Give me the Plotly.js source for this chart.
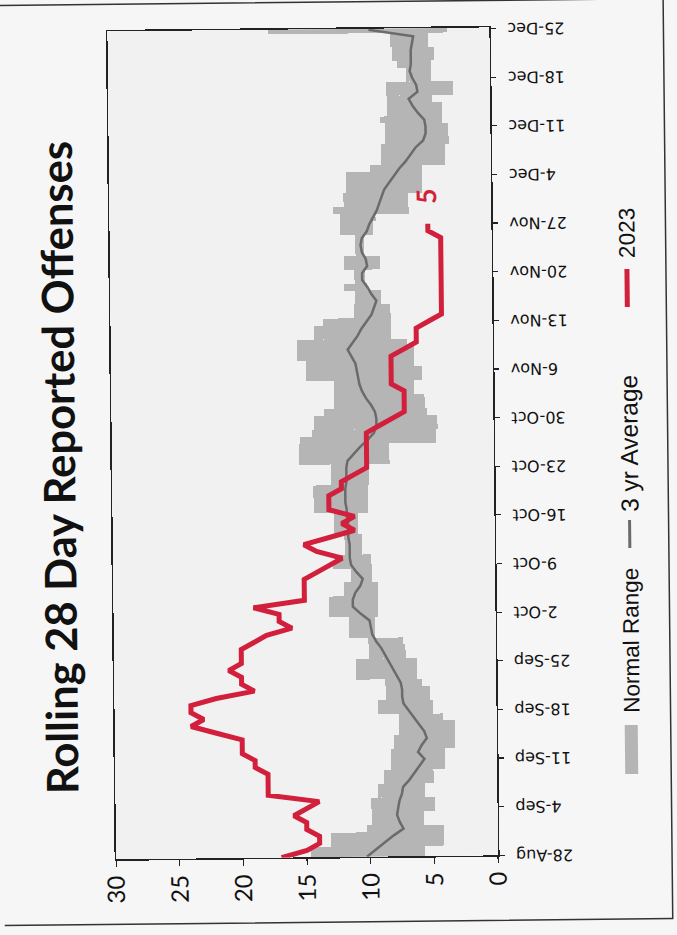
<!DOCTYPE html>
<html><head><meta charset="utf-8">
<script src="https://cdn.plot.ly/plotly-3.0.1.min.js"></script>
<style>
html,body{margin:0;padding:0;background:#f6f6f6;width:677px;height:935px;overflow:hidden}
#chart{position:absolute;left:-129px;top:129px;width:935px;height:677px;transform-origin:50% 50%;transform:rotate(-90.6deg)}
</style></head><body><div id="chart"></div>
<script>
// first day of every daily series
const startDay = [2023, 7, 28]; // 28-Aug-2023 (month is 0-based)

// Normal range (upper / lower), daily 28-Aug .. 25-Dec
const normalUpper = [14.7,14.7,13.1,13.1,10.3,9.9,9.9,9.9,9.9,9.4,
  9.4,8.9,8.9,8.3,8.3,8.3,8.1,8.1,7.7,7.7,
  7.7,9.3,9.3,8.7,8.7,8.7,11.0,11.0,11.0,10.0,
  10.0,10.0,11.5,11.5,11.5,13.1,13.1,13.1,11.9,11.9,
  11.3,11.3,12.7,12.6,11.8,11.8,11.8,12.6,12.6,12.6,
  14.2,14.2,14.2,14.2,12.8,12.8,12.8,15.3,15.3,15.3,
  15.2,14.3,14.1,14.1,13.3,12.5,12.5,12.5,12.5,14.7,
  14.7,14.7,15.4,15.4,15.4,14.0,14.0,13.3,10.9,10.9,
  10.8,10.8,11.6,10.8,10.8,11.6,11.6,10.7,10.7,10.7,
  11.9,11.9,11.9,12.4,11.6,11.6,11.4,11.4,11.4,9.5,
  8.6,8.6,8.6,8.3,8.3,8.3,8.7,8.1,8.1,8.1,
  8.2,8.2,6.6,6.6,7.3,7.7,7.7,7.8,7.8,17.4];
const normalLower = [5.7,5.7,4.2,4.2,4.2,5.8,5.8,4.9,4.9,5.7,
  5.7,5.0,5.0,4.1,4.1,4.1,3.3,3.3,3.3,3.3,
  4.2,5.0,5.0,5.2,5.2,5.8,6.2,6.2,6.2,7.1,
  7.1,7.3,9.5,9.5,9.5,9.2,9.2,9.2,9.2,9.2,
  9.7,9.7,9.7,9.7,10.4,10.4,10.4,10.7,10.7,10.7,
  9.9,9.9,9.9,9.9,9.8,9.8,9.8,8.2,8.2,8.2,
  4.5,4.5,4.4,4.4,5.2,5.4,5.4,6.2,6.2,5.6,
  5.6,6.2,6.2,6.2,6.7,8.0,8.0,8.0,8.0,8.0,
  8.7,8.7,9.8,10.0,10.0,8.8,8.8,10.0,10.0,10.0,
  9.3,9.3,9.1,6.5,6.5,6.5,5.4,5.4,5.4,5.4,
  3.6,3.6,3.6,3.3,3.3,3.3,3.8,3.8,3.8,4.6,
  2.9,2.9,4.6,4.6,4.6,4.4,4.4,4.8,4.8,3.3];

// 3 yr average
const avg3yr = [10.3,9.6,8.9,8.2,7.4,7.7,7.9,7.8,7.7,7.5,
  7.4,6.9,6.5,6.1,5.7,6.2,5.9,5.5,5.7,6.1,
  6.5,6.9,7.3,7.4,7.4,7.5,7.8,8.1,8.4,8.7,
  9.0,9.4,9.7,9.8,9.9,10.6,11.2,11.2,11.0,10.6,
  10.4,10.9,11.3,11.4,11.4,11.4,11.5,11.5,11.5,11.6,
  11.6,11.7,11.7,11.7,11.6,11.6,11.6,11.5,11.0,10.5,
  9.9,9.4,9.2,9.2,9.3,9.6,10.0,10.3,10.5,10.6,
  10.7,10.8,11.1,11.4,11.0,10.6,10.3,9.9,9.5,9.3,
  9.1,9.5,9.8,10.2,10.2,9.8,9.9,10.2,10.3,10.2,
  9.8,9.6,9.3,9.0,8.8,8.6,8.4,8.0,7.6,7.2,
  6.7,6.3,5.9,5.3,5.1,5.1,5.2,5.7,6.1,6.4,
  5.7,5.8,6.1,6.3,6.2,6.2,6.2,6.1,6.0,9.5];

// 2023 rolling 28 day count
const y2023 = [17,15,14,14,15,15,16,15,14,18,
  18,18,18,19,19,20,20,20,22,24,
  23,24,24,22,19,20,20,21,20,20,
  20,19,18,16,17,17,19,15,15,15,
  15,14,13,12,14,15,13,11,12,11,
  13,13,13,12,12,11,10,10,10,10,
  10,10,9,8,7,7,7,7,8,8,
  8,8,8,7,6,6,6,5,4,4,
  4,4,4,4,4,4,4,4,4,4,
  5,5];

const tickDates = ['2023-08-28','2023-09-04','2023-09-11','2023-09-18','2023-09-25','2023-10-02',
  '2023-10-09','2023-10-16','2023-10-23','2023-10-30','2023-11-06','2023-11-13','2023-11-20',
  '2023-11-27','2023-12-04','2023-12-11','2023-12-18','2023-12-25'];
const tickLabels = ['28-Aug','4-Sep','11-Sep','18-Sep','25-Sep','2-Oct','9-Oct','16-Oct','23-Oct',
  '30-Oct','6-Nov','13-Nov','20-Nov','27-Nov','4-Dec','11-Dec','18-Dec','25-Dec'];
const valueTicks = [0,5,10,15,20,25,30];
const seriesNames = ['Normal Range','3 yr Average','2023'];

const colRange = '#b5b5b5', colAvg = '#6b6b6b', colRed = '#d21f3c';

function dayStr(i){ return new Date(Date.UTC(startDay[0], startDay[1], startDay[2] + i)).toISOString().slice(0,10); }
const days = normalUpper.map((_, i) => dayStr(i));
const days2023 = y2023.map((_, i) => dayStr(i));

const traces = [
  { type:'bar', name:seriesNames[0], x:days, base:normalLower,
    y:normalUpper.map((u,i)=>u-normalLower[i]), width:86400000,
    marker:{color:colRange, line:{width:0}}, showlegend:false, hoverinfo:'skip' },
  { type:'scatter', mode:'lines', name:seriesNames[1], x:days, y:avg3yr,
    line:{color:colAvg, width:2.5}, showlegend:false },
  { type:'scatter', mode:'lines', name:seriesNames[2], x:days2023, y:y2023,
    line:{color:colRed, width:5}, showlegend:false }
];

// geometry helpers for the hand placed legend (paper units)
const L = 78, R = 29, T = 112, B = 183, W = 935, H = 677;
const pw = W - L - R, ph = H - T - B;
const px = x => (x - L) / pw;
const py = y => (H - B - y) / ph;
const legY = py(629);
const legFontFamily = 'Liberation Sans';

const lastI = y2023.length - 1;
const layout = {
  width: W, height: H, autosize:false,
  margin:{l:L, r:R, t:T, b:B, pad:0},
  paper_bgcolor:'#f6f6f6', plot_bgcolor:'#f1f1f1',
  bargap:0,
  title:{text:'Rolling 28 Day Reported Offenses', x:0.503, xref:'container', xanchor:'center',
         y:1 - 60/H, yref:'container', yanchor:'middle',
         font:{family:'Lato', size:43.5, color:'#111', weight:700}},
  xaxis:{type:'date', range:['2023-08-28','2023-12-25 04:00'], tickvals:tickDates, ticktext:tickLabels,
         tickangle:-90, ticks:'outside', ticklen:5, tickcolor:'#222', tickwidth:1.2,
         showline:true, linecolor:'#222', linewidth:1.5, mirror:true, showgrid:false, zeroline:false,
         ticklabelstandoff:5, tickfont:{family:'DejaVu Sans', size:16, color:'#111'}},
  yaxis:{range:[0,30], tickvals:valueTicks, ticks:'outside', ticklen:6, tickcolor:'#222', tickwidth:1.2,
         showline:true, linecolor:'#222', linewidth:1.5, mirror:true, showgrid:false, zeroline:false,
         ticklabelstandoff:4, tickfont:{family:'Lato', size:24, color:'#111'}},
  shapes:[
    {type:'rect', xref:'paper', yref:'paper', x0:px(13), x1:px(933), y0:py(668), y1:py(-10),
     line:{color:'#333', width:1.5}, fillcolor:'rgba(0,0,0,0)', layer:'below'},
    {type:'rect', xref:'paper', yref:'paper', x0:px(158), x1:px(207), y0:py(635), y1:py(622),
     line:{width:0}, fillcolor:colRange},
    {type:'line', xref:'paper', yref:'paper', x0:px(384), x1:px(412), y0:legY, y1:legY,
     line:{color:colAvg, width:3}},
    {type:'line', xref:'paper', yref:'paper', x0:px(625), x1:px(663), y0:legY, y1:legY,
     line:{color:colRed, width:5}}
  ],
  annotations:[
    {xref:'paper', yref:'paper', x:px(217), y:legY, xanchor:'left', yanchor:'middle', showarrow:false,
     text:seriesNames[0], font:{family:legFontFamily, size:22.5, color:'#111'}},
    {xref:'paper', yref:'paper', x:px(418), y:legY, xanchor:'left', yanchor:'middle', showarrow:false,
     text:seriesNames[1], font:{family:legFontFamily, size:24.5, color:'#111'}},
    {xref:'paper', yref:'paper', x:px(672), y:legY, xanchor:'left', yanchor:'middle', showarrow:false,
     text:seriesNames[2], font:{family:legFontFamily, size:22.5, color:'#111'}},
    {x:days2023[lastI], y:y2023[lastI], xref:'x', yref:'y', text:String(y2023[lastI]), showarrow:false,
     xanchor:'center', yanchor:'middle', xshift:28, yshift:2,
     font:{family:'Lato', size:27, color:colRed, weight:700}}
  ]
};

Plotly.newPlot('chart', traces, layout, {staticPlot:true, displayModeBar:false});
</script></body></html>
